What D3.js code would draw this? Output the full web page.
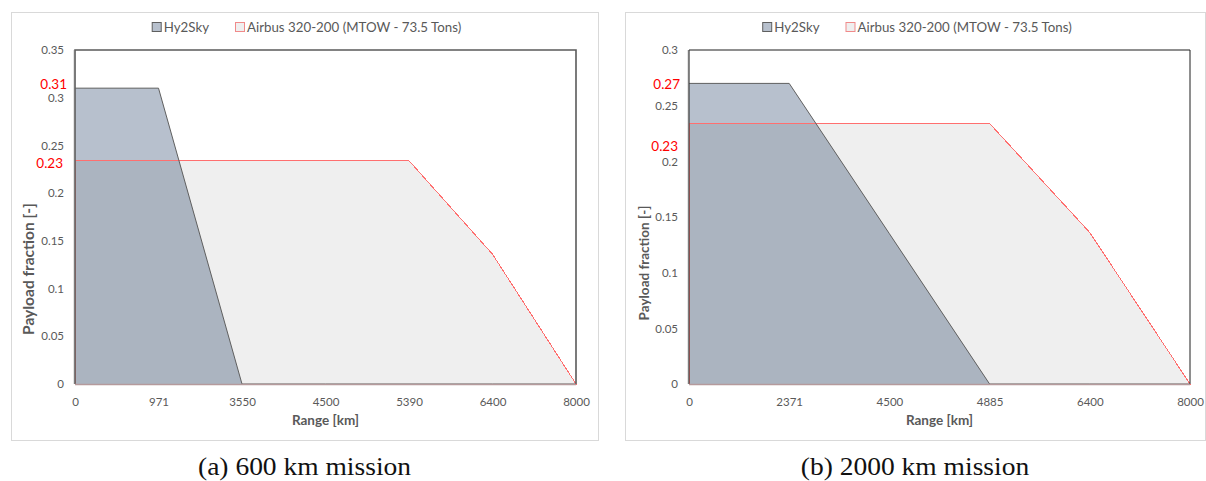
<!DOCTYPE html>
<html>
<head>
<meta charset="utf-8">
<script src="https://cdn.jsdelivr.net/npm/d3@7"></script>
<style>
  html, body { margin: 0; padding: 0; background: #fff; }
  svg { display: block; }
  text { font-family: Lato, "Open Sans", sans-serif; }
</style>
</head>
<body>
<script>
// Payload fraction vs. range, two mission designs
const rangeA   = ["0", "971", "3550", "4500", "5390", "6400", "8000"];
const hy2skyA  = [0.31, 0.31, 0, 0, 0, 0, 0];
const airbusA  = [0.234, 0.234, 0.234, 0.234, 0.234, 0.136, 0];
const yTicksA  = [0, 0.05, 0.1, 0.15, 0.2, 0.25, 0.3, 0.35];

const rangeB   = ["0", "2371", "4500", "4885", "6400", "8000"];
const hy2skyB  = [0.27, 0.27, 0.135, 0, 0, 0];
const airbusB  = [0.234, 0.234, 0.234, 0.234, 0.136, 0];
const yTicksB  = [0, 0.05, 0.1, 0.15, 0.2, 0.25, 0.3];

const seriesNames = ["Hy2Sky", "Airbus 320-200 (MTOW - 73.5 Tons)"];

const C = {
  hyFill: "#b7c0cd", hyLine: "#5f5f5f",
  abFill: "#efefef", abLine: "#ff6f6f",
  text: "#595959", note: "#ff0000", frame: "#d9d9d9"
};

const panels = [
  { cats: rangeA, hy: hy2skyA, ab: airbusA, ticks: yTicksA,
    box: { l: 11, r: 598, t: 12, b: 440 },
    plot: { l: 75, r: 576, t: 50, b: 384 },
    border: { color: "#5a5a5a", width: 1.6 },
    yTitle: { x: 29, y: 269, size: 15.5 },
    notes: [ { v: hy2skyA[0], dx: 67, dy: -3.5 }, { v: airbusA[0], dx: 63, dy: 3 } ],
    caption: "(a) 600 km mission" },
  { cats: rangeB, hy: hy2skyB, ab: airbusB, ticks: yTicksB,
    box: { l: 625, r: 1205, t: 12, b: 440 },
    plot: { l: 689, r: 1190, t: 50, b: 384 },
    border: { color: "#1e1e1e", width: 1 },
    yTitle: { x: 644, y: 263, size: 13.5 },
    notes: [ { v: hy2skyB[0], dx: 680, dy: 1 }, { v: airbusB[0], dx: 678, dy: 23 } ],
    caption: "(b) 2000 km mission" }
];

const svg = d3.select("body").append("svg")
  .attr("width", 1206).attr("height", 481);

const fmtNote = d3.format(".2f");

panels.forEach(p => {
  const g = svg.append("g");
  const cx = (p.box.l + p.box.r) / 2;

  // outer chart frame
  g.append("rect")
    .attr("x", p.box.l + 0.5).attr("y", p.box.t + 0.5)
    .attr("width", p.box.r - p.box.l).attr("height", p.box.b - p.box.t)
    .attr("fill", "#fff").attr("stroke", C.frame).attr("stroke-width", 1);

  const x = d3.scalePoint().domain(p.cats).range([p.plot.l, p.plot.r]).padding(0);
  const y = d3.scaleLinear().domain([0, d3.max(p.ticks)]).range([p.plot.b, p.plot.t]);

  const area = d3.area()
    .x((d, i) => x(p.cats[i]))
    .y0(y(0))
    .y1(d => y(d));

  const outline = vals => {
    const pts = vals.map((v, i) => [x(p.cats[i]), y(v)]);
    return d3.line()([[x(p.cats[0]), y(0)], ...pts, [x(p.cats[p.cats.length - 1]), y(0)]]) + "Z";
  };

  // filled envelopes; Hy2Sky is multiplied over the Airbus one
  const fillG = g.append("g").style("isolation", "isolate");
  fillG.append("path").attr("d", area(p.ab)).attr("fill", C.abFill);
  fillG.append("path").attr("d", area(p.hy))
    .attr("fill", C.hyFill).style("mix-blend-mode", "multiply");

  // outlines on top of both fills
  const lineG = g.append("g");
  lineG.append("path").attr("d", outline(p.ab))
    .attr("fill", "none").attr("stroke", C.abLine).attr("stroke-width", 1)
    .attr("shape-rendering", "crispEdges");
  const hyTop = d3.line().x((d, i) => x(p.cats[i])).y(d => y(d));
  lineG.append("path").attr("d", hyTop(p.hy))
    .attr("fill", "none").attr("stroke", C.hyLine).attr("stroke-width", 1);

  // plot-area border
  g.append("path")
    .attr("d", `M${p.plot.l},${p.plot.b}V${p.plot.t}H${p.plot.r}V${p.plot.b}`)
    .attr("fill", "none").attr("stroke", p.border.color).attr("stroke-width", p.border.width);
  g.append("line")
    .attr("x1", p.plot.l - 0.5).attr("x2", p.plot.l - 0.5)
    .attr("y1", p.plot.t).attr("y2", p.plot.b)
    .attr("stroke", "#7a7a7a").attr("stroke-width", 1.4);
  g.append("line")
    .attr("x1", p.plot.l).attr("x2", p.plot.r)
    .attr("y1", p.plot.b + 0.5).attr("y2", p.plot.b + 0.5)
    .attr("stroke", "#b59a9c").attr("stroke-width", 1.6);

  // axes
  const yAxis = g.append("g").attr("transform", `translate(${p.plot.l},0)`)
    .call(d3.axisLeft(y).tickValues(p.ticks).tickSize(0).tickPadding(11).tickFormat(d => String(d)));
  const xAxis = g.append("g").attr("transform", `translate(0,${p.plot.b})`)
    .call(d3.axisBottom(x).tickSize(0).tickPadding(14));
  [yAxis, xAxis].forEach(a => {
    a.select(".domain").remove();
    a.selectAll("text").attr("fill", C.text).style("font-size", "11.5px")
      .style("font-family", "Lato, sans-serif");
  });

  // axis titles
  g.append("text")
    .attr("x", (p.plot.l + p.plot.r) / 2).attr("y", 425)
    .attr("text-anchor", "middle").attr("fill", C.text)
    .style("font-size", "13.5px").style("font-weight", "bold")
    .text("Range [km]");
  g.append("text")
    .attr("transform", `translate(${p.yTitle.x},${p.yTitle.y}) rotate(-90)`)
    .attr("text-anchor", "middle").attr("dy", "0.35em").attr("fill", C.text)
    .style("font-size", p.yTitle.size + "px").style("font-weight", "bold")
    .text("Payload fraction [-]");

  // value notes
  p.notes.forEach(n => {
    g.append("text")
      .attr("x", n.dx).attr("y", y(n.v) + n.dy)
      .attr("dy", "0.35em").attr("text-anchor", "end")
      .attr("fill", C.note).style("font-size", "13.5px")
      .text(fmtNote(n.v));
  });

  // legend
  const leg = g.append("g");
  const swatches = [
    { fill: C.hyFill, stroke: C.hyLine },
    { fill: C.abFill, stroke: "#f08a8a" }
  ];
  let lx = 0;
  seriesNames.forEach((name, i) => {
    const it = leg.append("g").attr("transform", `translate(${lx},0)`);
    it.append("rect").attr("x", 0.5).attr("y", -4.5).attr("width", 9).attr("height", 9)
      .attr("fill", swatches[i].fill).attr("stroke", swatches[i].stroke).attr("stroke-width", 1);
    const t = it.append("text").attr("x", 12).attr("dy", "0.35em")
      .attr("fill", C.text).style("font-size", "13.3px").text(name);
    lx += 12 + t.node().getComputedTextLength() + 26;
  });
  const legW = lx - 26;
  leg.attr("transform", `translate(${cx - legW / 2 + 2},27)`);

  // caption
  svg.append("g")
    .attr("transform", `translate(${cx},475) scale(1.1,1)`)
    .append("text")
    .attr("text-anchor", "middle").attr("fill", "#111")
    .style("font-family", "'Liberation Serif', 'DejaVu Serif', serif")
    .style("font-size", "25px")
    .text(p.caption);
});
</script>
</body>
</html>
